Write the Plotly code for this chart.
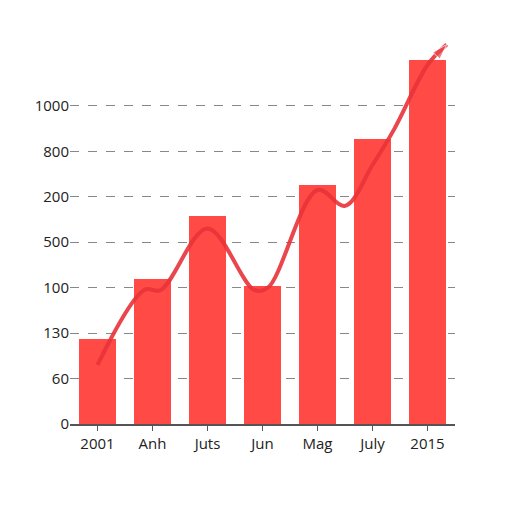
import plotly.graph_objects as go

categories = ["2001", "Anh", "Juts", "Jun", "Mag", "July", "2015"]
bar_values = [1.87, 3.19, 4.58, 3.04, 5.26, 6.28, 8.02]
tick_labels = ["0", "60", "130", "100", "500", "200", "800", "1000"]

# trend curve (position along the category axis, height in grid units)
curve_x = [0, 0.85, 1.15, 2, 2.85, 3.1, 4, 4.5, 5, 5.4, 6, 6.35]
curve_y = [1.3, 2.95, 2.95, 4.3, 2.95, 3.0, 5.15, 4.8, 5.7, 6.5, 7.9, 8.35]

red = "#ff4a45"

fig = go.Figure()
fig.add_trace(go.Bar(
    x=list(range(len(categories))), y=bar_values, width=0.67,
    marker=dict(color=red, line=dict(width=0)),
))
fig.add_trace(go.Scatter(
    x=curve_x, y=curve_y, mode="lines+markers", cliponaxis=False,
    line=dict(color="#e8333a", width=4, shape="spline", smoothing=1),
    marker=dict(symbol="arrow", angleref="previous", size=[0] * (len(curve_x) - 1) + [16],
                color="#e8333a"),
    opacity=0.9,
))
fig.update_layout(
    width=512, height=512, showlegend=False, plot_bgcolor="white", paper_bgcolor="white",
    margin=dict(l=62, r=65, t=32, b=96),
    font=dict(family="Open Sans", size=15, color="#222"),
    xaxis=dict(tickvals=list(range(len(categories))), ticktext=categories, range=[-0.5, 6.5],
               showline=True, linecolor="#555", linewidth=1.5, ticks="outside", ticklen=5,
               tickcolor="#555", showgrid=False, automargin=False),
    yaxis=dict(tickvals=list(range(len(tick_labels))), ticktext=tick_labels, range=[0, 8.45],
               showgrid=True, gridcolor="#888", griddash="dash", gridwidth=1,
               zeroline=False, showline=False, ticks="", automargin=False),
    bargap=0,
)
fig.write_html("out.html")
